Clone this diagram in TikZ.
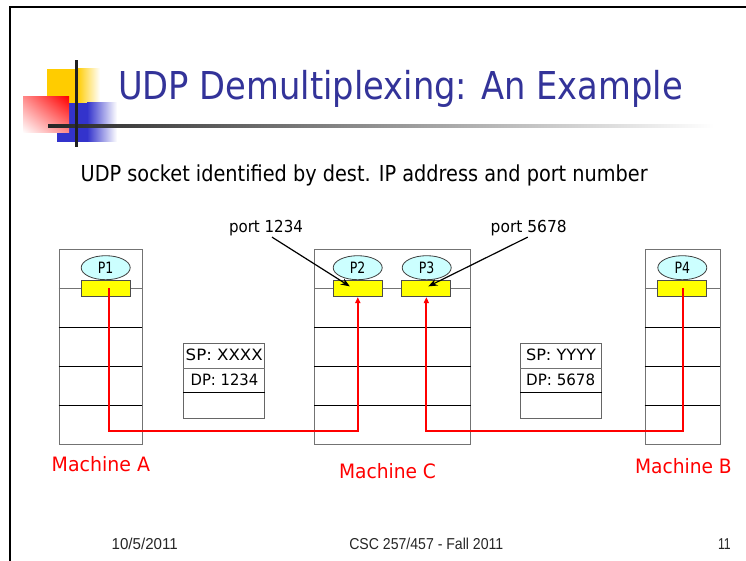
\documentclass[tikz,border=0pt]{standalone}
\usepackage{fontspec}
\setmainfont{DejaVu Sans}
\newfontfamily\footfont{Liberation Sans}
\usetikzlibrary{shapes.geometric,arrows.meta,calc,shadings}
\newcommand\fw[2]{\resizebox{#1pt}{\height}{#2}}
\newcommand\fsz[1]{\fontsize{#1pt}{#1pt}\selectfont}
\definecolor{titleblue}{RGB}{51,51,153}
\definecolor{decoY}{RGB}{255,204,0}
\definecolor{decoB}{RGB}{51,51,204}
\definecolor{procfill}{RGB}{204,255,255}
\definecolor{sockfill}{RGB}{255,255,0}
\begin{document}
\begin{tikzpicture}[x=1pt,y=-1pt,
  txt/.style={inner sep=0pt, outer sep=0pt},
  machine/.style={draw=black!55, line width=0.9pt, minimum width=#1, minimum height=194.7pt, inner sep=0pt},
  rowgray/.style={draw=black!55, line width=0.9pt},
  rowblack/.style={draw=black, line width=0.9pt},
  proc/.style={ellipse, draw=black!75, fill=procfill, line width=0.8pt, minimum width=49pt, minimum height=24pt, inner sep=0pt},
  sock/.style={rectangle, draw=black!70, fill=sockfill, line width=0.8pt, minimum width=49pt, minimum height=16.7pt, inner sep=0pt},
  pkt/.style={draw=black!60, line width=0.9pt, minimum width=#1, minimum height=75pt, inner sep=0pt},
  redline/.style={draw=red, line width=2pt},
  redarrow/.style={redline, -{Triangle[length=6pt,width=5pt]}},
  blkarrow/.style={draw=black, line width=1.2pt, -{Stealth[length=9pt,width=7pt]}},
  mlabel/.style={txt, text=red, anchor=base west},
]
\useasboundingbox (0,0) rectangle (746,561);
\fill[white] (0,0) rectangle (746,561);

% slide border
\draw[line width=2.2pt] (10.3,561) -- (10.3,7) -- (746,7);

% title decoration
\fill[decoY] (47,69) rectangle (77,103);
\shade[left color=decoY, right color=white] (77,69) rectangle (100,103);
\fill[decoB] (57,103) rectangle (87,142);
\shade[left color=decoB, right color=white] (87,103) rectangle (117,142);
\shade[upper right=red, lower left=white, upper left=red!45!white, lower right=red!45!white] (23,97) rectangle (69,133);
\shade[left color=black!85, right color=white] (48,124.5) rectangle (714,127.5);
\fill[black!88] (74.8,60) rectangle (77.8,147);

% title and subtitle
\node[txt, anchor=base west, text=titleblue] (title) at (118,100) {\fsz{38.4}\fw{565}{UDP Demultiplexing: An Example}};
\node[txt, anchor=base west] (sub) at (80.7,181.7) {\fsz{22}\fw{567}{UDP socket identified by dest. IP address and port number}};

% machines
\node[machine=83pt] (mA) at (100.5,346.65) {};
\node[machine=156pt] (mC) at (392.7,346.65) {};
\node[machine=75pt] (mB) at (682.5,346.65) {};
\foreach \m in {mA,mC,mB}{
  \draw[rowgray] (\m.west |- 0,288.7) -- (\m.east |- 0,288.7);
  \draw[rowblack] (\m.west |- 0,327.3) -- (\m.east |- 0,327.3);
  \draw[rowblack] (\m.west |- 0,366) -- (\m.east |- 0,366);
  \draw[rowblack] (\m.west |- 0,405.3) -- (\m.east |- 0,405.3);
}

% packets
\node[pkt=81pt] (pA) at (224.2,380.5) {};
\node[pkt=80.6pt] (pB) at (561,380.5) {};
\foreach \p in {pA,pB}{
  \draw[rowgray] (\p.west |- 0,368) -- (\p.east |- 0,368);
  \draw[rowblack] (\p.west |- 0,392.7) -- (\p.east |- 0,392.7);
}
\node[txt, anchor=base] (spA) at (224.2,360.7) {\fsz{15.6}\fw{77}{SP: XXXX}};
\node[txt, anchor=base] (dpA) at (224.5,385.7) {\fsz{15.6}\fw{67.6}{DP: 1234}};
\node[txt, anchor=base] (spB) at (561,360.7) {\fsz{15.6}\fw{70}{SP: YYYY}};
\node[txt, anchor=base] (dpB) at (560.7,385.7) {\fsz{15.6}\fw{69}{DP: 5678}};

% processes and sockets
\node[proc] (P1) at (105.7,267.7) {\fsz{15.6}\fw{15.5}{P1}};
\node[proc] (P2) at (357.7,267.7) {\fsz{15.6}\fw{15.5}{P2}};
\node[proc] (P3) at (426.7,267.7) {\fsz{15.6}\fw{15.5}{P3}};
\node[proc] (P4) at (682.3,267.7) {\fsz{15.6}\fw{15.5}{P4}};
\node[sock] (sA) at (105.65,288.35) {};
\node[sock] (sC1) at (357.8,288.35) {};
\node[sock] (sC2) at (426.35,288.35) {};
\node[sock] (sB) at (682.2,288.35) {};

% red paths
\coordinate (bus) at (0,430.7);
\draw[redarrow] ([xshift=3pt]sA.center) |- (bus -| sC1.south) -- (sC1.south);
\draw[redarrow] ([xshift=0.8pt]sB.center) |- (bus -| sC2.south) -- (sC2.south);

% port labels
\node[txt, anchor=base west] (p1234) at (229,232.7) {\fsz{16.5}\fw{74}{port 1234}};
\node[txt, anchor=base west] (p5678) at (490.7,232.7) {\fsz{16.5}\fw{76}{port 5678}};
\draw[blkarrow] ([xshift=6pt,yshift=-1pt]p1234.south) -- ([xshift=-8pt,yshift=2pt]sC1.center);
\draw[blkarrow] ([xshift=-1pt,yshift=-1pt]p5678.south) -- ([xshift=2pt,yshift=2pt]sC2.center);

% machine labels
\node[mlabel] (lA) at (51.7,471.7) {\fsz{19.8}\fw{98.3}{Machine A}};
\node[mlabel] (lC) at (339,478.3) {\fsz{19.8}\fw{97}{Machine C}};
\node[mlabel] (lB) at (635,473.3) {\fsz{19.8}\fw{96.7}{Machine B}};

% footer
\node[txt, anchor=base west, text=black!85] (date) at (111.7,549) {\footfont\fsz{15.8}\fw{66}{10/5/2011}};
\node[txt, anchor=base west, text=black!85] (course) at (349.3,549) {\footfont\fsz{15.8}\fw{154}{CSC 257/457 - Fall 2011}};
\node[txt, anchor=base west, text=black!85] (page) at (718,549) {\footfont\fsz{15.8}\fw{12.7}{11}};
\end{tikzpicture}
\end{document}
